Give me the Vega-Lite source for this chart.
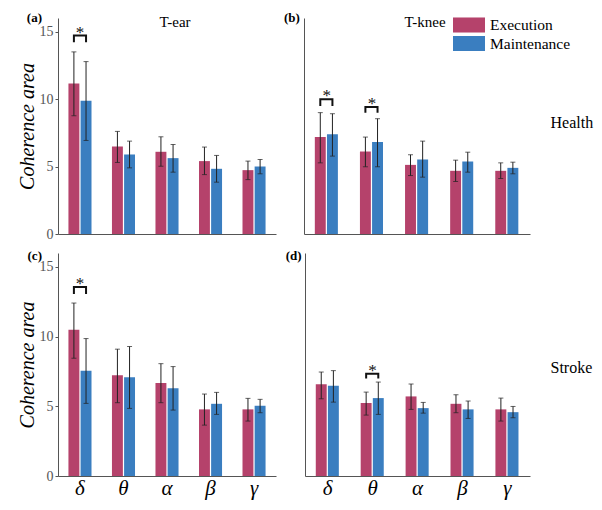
{
  "$schema": "https://vega.github.io/schema/vega-lite/v6.json",
  "padding": {"left": 17, "top": 12, "right": 4, "bottom": 4},
  "background": "white",
  "config": {
    "view": {"stroke": null},
    "font": "Liberation Serif",
    "axis": {"grid": false, "ticks": false, "domain": true, "domainColor": "#555", "domainWidth": 1, "domainOpacity": 1, "labelFont": "Liberation Serif", "titleFont": "Liberation Serif", "labelColor": "#555"},
    "title": {"font": "Liberation Serif", "fontWeight": "normal", "fontSize": 15, "color": "#000"}
  },
  "datasets": {
    "bars": [
      {"panel": "a", "band": "δ", "cond": "Execution", "mean": 11.14, "lo": 8.76, "hi": 13.49},
      {"panel": "a", "band": "δ", "cond": "Maintenance", "mean": 9.87, "lo": 6.93, "hi": 12.77},
      {"panel": "a", "band": "θ", "cond": "Execution", "mean": 6.49, "lo": 5.3, "hi": 7.6},
      {"panel": "a", "band": "θ", "cond": "Maintenance", "mean": 5.89, "lo": 4.9, "hi": 6.88},
      {"panel": "a", "band": "α", "cond": "Execution", "mean": 6.09, "lo": 5.02, "hi": 7.2},
      {"panel": "a", "band": "α", "cond": "Maintenance", "mean": 5.62, "lo": 4.58, "hi": 6.63},
      {"panel": "a", "band": "β", "cond": "Execution", "mean": 5.4, "lo": 4.4, "hi": 6.44},
      {"panel": "a", "band": "β", "cond": "Maintenance", "mean": 4.83, "lo": 3.84, "hi": 5.82},
      {"panel": "a", "band": "γ", "cond": "Execution", "mean": 4.73, "lo": 4.03, "hi": 5.4},
      {"panel": "a", "band": "γ", "cond": "Maintenance", "mean": 5.0, "lo": 4.46, "hi": 5.52},
      {"panel": "b", "band": "δ", "cond": "Execution", "mean": 7.18, "lo": 5.27, "hi": 8.99},
      {"panel": "b", "band": "δ", "cond": "Maintenance", "mean": 7.38, "lo": 5.77, "hi": 8.91},
      {"panel": "b", "band": "θ", "cond": "Execution", "mean": 6.11, "lo": 4.98, "hi": 7.18},
      {"panel": "b", "band": "θ", "cond": "Maintenance", "mean": 6.81, "lo": 4.98, "hi": 8.54},
      {"panel": "b", "band": "α", "cond": "Execution", "mean": 5.12, "lo": 4.33, "hi": 5.87},
      {"panel": "b", "band": "α", "cond": "Maintenance", "mean": 5.52, "lo": 4.21, "hi": 6.88},
      {"panel": "b", "band": "β", "cond": "Execution", "mean": 4.68, "lo": 3.89, "hi": 5.47},
      {"panel": "b", "band": "β", "cond": "Maintenance", "mean": 5.37, "lo": 4.58, "hi": 6.06},
      {"panel": "b", "band": "γ", "cond": "Execution", "mean": 4.68, "lo": 4.11, "hi": 5.27},
      {"panel": "b", "band": "γ", "cond": "Maintenance", "mean": 4.9, "lo": 4.46, "hi": 5.32},
      {"panel": "c", "band": "δ", "cond": "Execution", "mean": 10.49, "lo": 8.45, "hi": 12.41},
      {"panel": "c", "band": "δ", "cond": "Maintenance", "mean": 7.56, "lo": 5.21, "hi": 9.86},
      {"panel": "c", "band": "θ", "cond": "Execution", "mean": 7.22, "lo": 5.26, "hi": 9.1},
      {"panel": "c", "band": "θ", "cond": "Maintenance", "mean": 7.08, "lo": 4.85, "hi": 9.29},
      {"panel": "c", "band": "α", "cond": "Execution", "mean": 6.67, "lo": 5.26, "hi": 8.06},
      {"panel": "c", "band": "α", "cond": "Maintenance", "mean": 6.29, "lo": 4.73, "hi": 7.85},
      {"panel": "c", "band": "β", "cond": "Execution", "mean": 4.78, "lo": 3.65, "hi": 5.88},
      {"panel": "c", "band": "β", "cond": "Maintenance", "mean": 5.18, "lo": 4.42, "hi": 6.0},
      {"panel": "c", "band": "γ", "cond": "Execution", "mean": 4.78, "lo": 3.94, "hi": 5.57},
      {"panel": "c", "band": "γ", "cond": "Maintenance", "mean": 5.04, "lo": 4.54, "hi": 5.5},
      {"panel": "d", "band": "δ", "cond": "Execution", "mean": 6.58, "lo": 5.54, "hi": 7.46},
      {"panel": "d", "band": "δ", "cond": "Maintenance", "mean": 6.48, "lo": 5.3, "hi": 7.56},
      {"panel": "d", "band": "θ", "cond": "Execution", "mean": 5.23, "lo": 4.37, "hi": 6.02},
      {"panel": "d", "band": "θ", "cond": "Maintenance", "mean": 5.59, "lo": 4.42, "hi": 6.74},
      {"panel": "d", "band": "α", "cond": "Execution", "mean": 5.71, "lo": 4.78, "hi": 6.6},
      {"panel": "d", "band": "α", "cond": "Maintenance", "mean": 4.87, "lo": 4.51, "hi": 5.28},
      {"panel": "d", "band": "β", "cond": "Execution", "mean": 5.18, "lo": 4.54, "hi": 5.83},
      {"panel": "d", "band": "β", "cond": "Maintenance", "mean": 4.78, "lo": 4.13, "hi": 5.38},
      {"panel": "d", "band": "γ", "cond": "Execution", "mean": 4.78, "lo": 3.94, "hi": 5.59},
      {"panel": "d", "band": "γ", "cond": "Maintenance", "mean": 4.58, "lo": 4.18, "hi": 4.99}
    ],
    "brackets": [
      {"panel": "a", "id": "a1", "band": "δ", "cond": "Execution", "k": 1, "y": 14.2},
      {"panel": "a", "id": "a1", "band": "δ", "cond": "Execution", "k": 2, "y": 14.7},
      {"panel": "a", "id": "a1", "band": "δ", "cond": "Maintenance", "k": 3, "y": 14.7},
      {"panel": "a", "id": "a1", "band": "δ", "cond": "Maintenance", "k": 4, "y": 14.2},
      {"panel": "b", "id": "b1", "band": "δ", "cond": "Execution", "k": 1, "y": 9.48},
      {"panel": "b", "id": "b1", "band": "δ", "cond": "Execution", "k": 2, "y": 9.98},
      {"panel": "b", "id": "b1", "band": "δ", "cond": "Maintenance", "k": 3, "y": 9.98},
      {"panel": "b", "id": "b1", "band": "δ", "cond": "Maintenance", "k": 4, "y": 9.48},
      {"panel": "b", "id": "b2", "band": "θ", "cond": "Execution", "k": 1, "y": 8.99},
      {"panel": "b", "id": "b2", "band": "θ", "cond": "Execution", "k": 2, "y": 9.4},
      {"panel": "b", "id": "b2", "band": "θ", "cond": "Maintenance", "k": 3, "y": 9.4},
      {"panel": "b", "id": "b2", "band": "θ", "cond": "Maintenance", "k": 4, "y": 8.99},
      {"panel": "c", "id": "c1", "band": "δ", "cond": "Execution", "k": 1, "y": 13.06},
      {"panel": "c", "id": "c1", "band": "δ", "cond": "Execution", "k": 2, "y": 13.56},
      {"panel": "c", "id": "c1", "band": "δ", "cond": "Maintenance", "k": 3, "y": 13.56},
      {"panel": "c", "id": "c1", "band": "δ", "cond": "Maintenance", "k": 4, "y": 13.06},
      {"panel": "d", "id": "d1", "band": "θ", "cond": "Execution", "k": 1, "y": 7.0},
      {"panel": "d", "id": "d1", "band": "θ", "cond": "Execution", "k": 2, "y": 7.34},
      {"panel": "d", "id": "d1", "band": "θ", "cond": "Maintenance", "k": 3, "y": 7.34},
      {"panel": "d", "id": "d1", "band": "θ", "cond": "Maintenance", "k": 4, "y": 7.0}
    ],
    "stars": [
      {"panel": "a", "band": "δ", "y": 14.7, "text": "*"},
      {"panel": "b", "band": "δ", "y": 9.98, "text": "*"},
      {"panel": "b", "band": "θ", "y": 9.4, "text": "*"},
      {"panel": "c", "band": "δ", "y": 13.56, "text": "*"},
      {"panel": "d", "band": "θ", "y": 7.34, "text": "*"}
    ],
    "labels": [
      {"panel": "a", "band": "δ", "y": 16, "text": "(a)"},
      {"panel": "b", "band": "δ", "y": 16, "text": "(b)"},
      {"panel": "c", "band": "δ", "y": 15.8, "text": "(c)"},
      {"panel": "d", "band": "δ", "y": 15.8, "text": "(d)"}
    ]
  },
  "resolve": {"scale": {"x": "independent", "y": "independent", "color": "independent"}, "legend": {"color": "independent"}},
  "vconcat": [
    {
      "resolve": {"scale": {"x": "independent", "y": "independent", "color": "independent"}, "legend": {"color": "independent"}},
      "hconcat": [
        {
          "width": 218, "height": 216,
          "title": {"text": "T-ear", "offset": -18, "frame": "group", "dx": 8},
          "resolve": {"axis": {"x": "independent", "y": "independent"}},
          "layer": [
            {"data": {"name": "bars"}, "transform": [{"filter": "datum.panel === 'a'"}],
             "mark": {"type": "bar"},
             "encoding": {
               "x": {"field": "band", "type": "nominal", "sort": ["δ", "θ", "α", "β", "γ"], "scale": {"paddingInner": 0.47, "paddingOuter": 0.24}, "axis": {"labels": false, "title": null, "domain": true, "domainColor": "#555"}},
               "xOffset": {"field": "cond", "type": "nominal", "sort": ["Execution", "Maintenance"], "scale": {"paddingInner": 0.1}},
               "y": {"field": "mean", "type": "quantitative", "scale": {"domain": [0, 16], "nice": false}, "axis": {"values": [0, 5, 10, 15], "domain": true, "domainColor": "#555", "ticks": true, "tickSize": 3, "tickColor": "#555", "title": "Coherence area", "titleFontStyle": "italic", "titleFontWeight": "normal", "titleFontSize": 20, "titleColor": "#000", "labelFontSize": 14, "labelPadding": 2, "titlePadding": 2}},
               "color": {"field": "cond", "type": "nominal", "scale": {"domain": ["Execution", "Maintenance"], "range": ["#B5426B", "#3A7EC0"]}, "legend": null}
             }},
            {"data": {"name": "bars"}, "transform": [{"filter": "datum.panel === 'a'"}],
             "mark": {"type": "rule", "color": "#222", "strokeWidth": 1},
             "encoding": {
               "x": {"field": "band", "type": "nominal", "sort": ["δ", "θ", "α", "β", "γ"], "axis": null},
               "xOffset": {"field": "cond", "type": "nominal", "sort": ["Execution", "Maintenance"]},
               "y": {"field": "lo", "type": "quantitative", "axis": null},
               "y2": {"field": "hi"}
             }},
            {"data": {"name": "bars"}, "transform": [{"filter": "datum.panel === 'a'"}],
             "mark": {"type": "tick", "color": "#222", "size": 5, "thickness": 1},
             "encoding": {
               "x": {"field": "band", "type": "nominal", "sort": ["δ", "θ", "α", "β", "γ"], "axis": null},
               "xOffset": {"field": "cond", "type": "nominal", "sort": ["Execution", "Maintenance"]},
               "y": {"field": "lo", "type": "quantitative", "axis": null}
             }},
            {"data": {"name": "bars"}, "transform": [{"filter": "datum.panel === 'a'"}],
             "mark": {"type": "tick", "color": "#222", "size": 5, "thickness": 1},
             "encoding": {
               "x": {"field": "band", "type": "nominal", "sort": ["δ", "θ", "α", "β", "γ"], "axis": null},
               "xOffset": {"field": "cond", "type": "nominal", "sort": ["Execution", "Maintenance"]},
               "y": {"field": "hi", "type": "quantitative", "axis": null}
             }},
            {"data": {"name": "brackets"}, "transform": [{"filter": "datum.panel === 'a'"}],
             "mark": {"type": "line", "color": "#111", "strokeWidth": 2},
             "encoding": {
               "x": {"field": "band", "type": "nominal", "sort": ["δ", "θ", "α", "β", "γ"], "axis": null},
               "xOffset": {"field": "cond", "type": "nominal", "sort": ["Execution", "Maintenance"]},
               "y": {"field": "y", "type": "quantitative", "axis": null},
               "detail": {"field": "id"},
               "order": {"field": "k"}
             }},
            {"data": {"name": "stars"}, "transform": [{"filter": "datum.panel === 'a'"}],
             "mark": {"type": "text", "fontSize": 17, "baseline": "alphabetic", "dy": 2, "color": "#111"},
             "encoding": {
               "x": {"field": "band", "type": "nominal", "sort": ["δ", "θ", "α", "β", "γ"], "axis": null},
               "y": {"field": "y", "type": "quantitative", "axis": null},
               "text": {"field": "text"}
             }},
            {"data": {"name": "labels"}, "transform": [{"filter": "datum.panel === 'a'"}],
             "mark": {"type": "text", "fontSize": 13, "fontWeight": "bold", "align": "right", "baseline": "middle", "dx": -38, "color": "#000"},
             "encoding": {
               "x": {"field": "band", "type": "nominal", "sort": ["δ", "θ", "α", "β", "γ"], "axis": null},
               "y": {"field": "y", "type": "quantitative", "axis": null},
               "text": {"field": "text"}
             }}
          ]
        },
        {
          "width": 226, "height": 216,
          "title": {"text": "T-knee", "offset": -18, "frame": "group", "dx": 8},
          "resolve": {"axis": {"x": "independent", "y": "independent"}},
          "layer": [
            {"data": {"name": "bars"}, "transform": [{"filter": "datum.panel === 'b'"}],
             "mark": {"type": "bar"},
             "encoding": {
               "x": {"field": "band", "type": "nominal", "sort": ["δ", "θ", "α", "β", "γ"], "scale": {"paddingInner": 0.47, "paddingOuter": 0.24}, "axis": {"labels": false, "title": null, "domain": true, "domainColor": "#555"}},
               "xOffset": {"field": "cond", "type": "nominal", "sort": ["Execution", "Maintenance"], "scale": {"paddingInner": 0.1}},
               "y": {"field": "mean", "type": "quantitative", "scale": {"domain": [0, 16], "nice": false}, "axis": {"labels": false, "title": null, "domain": true, "domainColor": "#555"}},
               "color": {"field": "cond", "type": "nominal", "scale": {"domain": ["Execution", "Maintenance"], "range": ["#B5426B", "#3A7EC0"]},
                 "legend": {"orient": "none", "legendX": 157, "legendY": -1, "title": null, "symbolType": "M-2,-0.94H2V0.94H-2Z", "symbolSize": 256, "symbolStrokeWidth": 0, "labelFontSize": 15.5, "labelFont": "Liberation Serif", "labelColor": "#000", "labelOffset": 13, "rowPadding": 1.5, "padding": 0}}
             }},
            {"data": {"name": "bars"}, "transform": [{"filter": "datum.panel === 'b'"}],
             "mark": {"type": "rule", "color": "#222", "strokeWidth": 1},
             "encoding": {
               "x": {"field": "band", "type": "nominal", "sort": ["δ", "θ", "α", "β", "γ"], "axis": null},
               "xOffset": {"field": "cond", "type": "nominal", "sort": ["Execution", "Maintenance"]},
               "y": {"field": "lo", "type": "quantitative", "axis": {"orient": "right", "title": "Health", "domain": false, "labels": false, "titleAngle": 0, "titleAlign": "left", "titleBaseline": "middle", "titleY": 104, "titlePadding": 20, "titleFontSize": 16, "titleFontWeight": "normal", "titleColor": "#000"}},
               "y2": {"field": "hi"}
             }},
            {"data": {"name": "bars"}, "transform": [{"filter": "datum.panel === 'b'"}],
             "mark": {"type": "tick", "color": "#222", "size": 5, "thickness": 1},
             "encoding": {
               "x": {"field": "band", "type": "nominal", "sort": ["δ", "θ", "α", "β", "γ"], "axis": null},
               "xOffset": {"field": "cond", "type": "nominal", "sort": ["Execution", "Maintenance"]},
               "y": {"field": "lo", "type": "quantitative", "axis": null}
             }},
            {"data": {"name": "bars"}, "transform": [{"filter": "datum.panel === 'b'"}],
             "mark": {"type": "tick", "color": "#222", "size": 5, "thickness": 1},
             "encoding": {
               "x": {"field": "band", "type": "nominal", "sort": ["δ", "θ", "α", "β", "γ"], "axis": null},
               "xOffset": {"field": "cond", "type": "nominal", "sort": ["Execution", "Maintenance"]},
               "y": {"field": "hi", "type": "quantitative", "axis": null}
             }},
            {"data": {"name": "brackets"}, "transform": [{"filter": "datum.panel === 'b'"}],
             "mark": {"type": "line", "color": "#111", "strokeWidth": 2},
             "encoding": {
               "x": {"field": "band", "type": "nominal", "sort": ["δ", "θ", "α", "β", "γ"], "axis": null},
               "xOffset": {"field": "cond", "type": "nominal", "sort": ["Execution", "Maintenance"]},
               "y": {"field": "y", "type": "quantitative", "axis": null},
               "detail": {"field": "id"},
               "order": {"field": "k"}
             }},
            {"data": {"name": "stars"}, "transform": [{"filter": "datum.panel === 'b'"}],
             "mark": {"type": "text", "fontSize": 17, "baseline": "alphabetic", "dy": 2, "color": "#111"},
             "encoding": {
               "x": {"field": "band", "type": "nominal", "sort": ["δ", "θ", "α", "β", "γ"], "axis": null},
               "y": {"field": "y", "type": "quantitative", "axis": null},
               "text": {"field": "text"}
             }},
            {"data": {"name": "labels"}, "transform": [{"filter": "datum.panel === 'b'"}],
             "mark": {"type": "text", "fontSize": 13, "fontWeight": "bold", "align": "right", "baseline": "middle", "dx": -27, "color": "#000"},
             "encoding": {
               "x": {"field": "band", "type": "nominal", "sort": ["δ", "θ", "α", "β", "γ"], "axis": null},
               "y": {"field": "y", "type": "quantitative", "axis": null},
               "text": {"field": "text"}
             }}
          ]
        }
      ],
      "spacing": 7
    },
    {
      "resolve": {"scale": {"x": "independent", "y": "independent", "color": "independent"}, "legend": {"color": "independent"}},
      "hconcat": [
        {
          "width": 218, "height": 223,
          "resolve": {"axis": {"x": "independent", "y": "independent"}},
          "layer": [
            {"data": {"name": "bars"}, "transform": [{"filter": "datum.panel === 'c'"}],
             "mark": {"type": "bar"},
             "encoding": {
               "x": {"field": "band", "type": "nominal", "sort": ["δ", "θ", "α", "β", "γ"], "scale": {"paddingInner": 0.47, "paddingOuter": 0.24}, "axis": {"labelAngle": 0, "labelFontSize": 21, "labelFontStyle": "italic", "labelColor": "#000", "labelPadding": 1, "title": null, "domain": true, "domainColor": "#555"}},
               "xOffset": {"field": "cond", "type": "nominal", "sort": ["Execution", "Maintenance"], "scale": {"paddingInner": 0.1}},
               "y": {"field": "mean", "type": "quantitative", "scale": {"domain": [0, 16], "nice": false}, "axis": {"values": [0, 5, 10, 15], "domain": true, "domainColor": "#555", "ticks": true, "tickSize": 3, "tickColor": "#555", "title": "Coherence area", "titleFontStyle": "italic", "titleFontWeight": "normal", "titleFontSize": 20, "titleColor": "#000", "labelFontSize": 14, "labelPadding": 2, "titlePadding": 2}},
               "color": {"field": "cond", "type": "nominal", "scale": {"domain": ["Execution", "Maintenance"], "range": ["#B5426B", "#3A7EC0"]}, "legend": null}
             }},
            {"data": {"name": "bars"}, "transform": [{"filter": "datum.panel === 'c'"}],
             "mark": {"type": "rule", "color": "#222", "strokeWidth": 1},
             "encoding": {
               "x": {"field": "band", "type": "nominal", "sort": ["δ", "θ", "α", "β", "γ"], "axis": null},
               "xOffset": {"field": "cond", "type": "nominal", "sort": ["Execution", "Maintenance"]},
               "y": {"field": "lo", "type": "quantitative", "axis": null},
               "y2": {"field": "hi"}
             }},
            {"data": {"name": "bars"}, "transform": [{"filter": "datum.panel === 'c'"}],
             "mark": {"type": "tick", "color": "#222", "size": 5, "thickness": 1},
             "encoding": {
               "x": {"field": "band", "type": "nominal", "sort": ["δ", "θ", "α", "β", "γ"], "axis": null},
               "xOffset": {"field": "cond", "type": "nominal", "sort": ["Execution", "Maintenance"]},
               "y": {"field": "lo", "type": "quantitative", "axis": null}
             }},
            {"data": {"name": "bars"}, "transform": [{"filter": "datum.panel === 'c'"}],
             "mark": {"type": "tick", "color": "#222", "size": 5, "thickness": 1},
             "encoding": {
               "x": {"field": "band", "type": "nominal", "sort": ["δ", "θ", "α", "β", "γ"], "axis": null},
               "xOffset": {"field": "cond", "type": "nominal", "sort": ["Execution", "Maintenance"]},
               "y": {"field": "hi", "type": "quantitative", "axis": null}
             }},
            {"data": {"name": "brackets"}, "transform": [{"filter": "datum.panel === 'c'"}],
             "mark": {"type": "line", "color": "#111", "strokeWidth": 2},
             "encoding": {
               "x": {"field": "band", "type": "nominal", "sort": ["δ", "θ", "α", "β", "γ"], "axis": null},
               "xOffset": {"field": "cond", "type": "nominal", "sort": ["Execution", "Maintenance"]},
               "y": {"field": "y", "type": "quantitative", "axis": null},
               "detail": {"field": "id"},
               "order": {"field": "k"}
             }},
            {"data": {"name": "stars"}, "transform": [{"filter": "datum.panel === 'c'"}],
             "mark": {"type": "text", "fontSize": 17, "baseline": "alphabetic", "dy": 2, "color": "#111"},
             "encoding": {
               "x": {"field": "band", "type": "nominal", "sort": ["δ", "θ", "α", "β", "γ"], "axis": null},
               "y": {"field": "y", "type": "quantitative", "axis": null},
               "text": {"field": "text"}
             }},
            {"data": {"name": "labels"}, "transform": [{"filter": "datum.panel === 'c'"}],
             "mark": {"type": "text", "fontSize": 13, "fontWeight": "bold", "align": "right", "baseline": "middle", "dx": -38, "color": "#000"},
             "encoding": {
               "x": {"field": "band", "type": "nominal", "sort": ["δ", "θ", "α", "β", "γ"], "axis": null},
               "y": {"field": "y", "type": "quantitative", "axis": null},
               "text": {"field": "text"}
             }}
          ]
        },
        {
          "width": 225, "height": 223,
          "resolve": {"axis": {"x": "independent", "y": "independent"}},
          "layer": [
            {"data": {"name": "bars"}, "transform": [{"filter": "datum.panel === 'd'"}],
             "mark": {"type": "bar"},
             "encoding": {
               "x": {"field": "band", "type": "nominal", "sort": ["δ", "θ", "α", "β", "γ"], "scale": {"paddingInner": 0.47, "paddingOuter": 0.24}, "axis": {"labelAngle": 0, "labelFontSize": 21, "labelFontStyle": "italic", "labelColor": "#000", "labelPadding": 1, "title": null, "domain": true, "domainColor": "#555"}},
               "xOffset": {"field": "cond", "type": "nominal", "sort": ["Execution", "Maintenance"], "scale": {"paddingInner": 0.1}},
               "y": {"field": "mean", "type": "quantitative", "scale": {"domain": [0, 16], "nice": false}, "axis": {"labels": false, "title": null, "domain": true, "domainColor": "#555"}},
               "color": {"field": "cond", "type": "nominal", "scale": {"domain": ["Execution", "Maintenance"], "range": ["#B5426B", "#3A7EC0"]}, "legend": null}
             }},
            {"data": {"name": "bars"}, "transform": [{"filter": "datum.panel === 'd'"}],
             "mark": {"type": "rule", "color": "#222", "strokeWidth": 1},
             "encoding": {
               "x": {"field": "band", "type": "nominal", "sort": ["δ", "θ", "α", "β", "γ"], "axis": null},
               "xOffset": {"field": "cond", "type": "nominal", "sort": ["Execution", "Maintenance"]},
               "y": {"field": "lo", "type": "quantitative", "axis": {"orient": "right", "title": "Stroke", "domain": false, "labels": false, "titleAngle": 0, "titleAlign": "left", "titleBaseline": "middle", "titleY": 114, "titlePadding": 20, "titleFontSize": 16, "titleFontWeight": "normal", "titleColor": "#000"}},
               "y2": {"field": "hi"}
             }},
            {"data": {"name": "bars"}, "transform": [{"filter": "datum.panel === 'd'"}],
             "mark": {"type": "tick", "color": "#222", "size": 5, "thickness": 1},
             "encoding": {
               "x": {"field": "band", "type": "nominal", "sort": ["δ", "θ", "α", "β", "γ"], "axis": null},
               "xOffset": {"field": "cond", "type": "nominal", "sort": ["Execution", "Maintenance"]},
               "y": {"field": "lo", "type": "quantitative", "axis": null}
             }},
            {"data": {"name": "bars"}, "transform": [{"filter": "datum.panel === 'd'"}],
             "mark": {"type": "tick", "color": "#222", "size": 5, "thickness": 1},
             "encoding": {
               "x": {"field": "band", "type": "nominal", "sort": ["δ", "θ", "α", "β", "γ"], "axis": null},
               "xOffset": {"field": "cond", "type": "nominal", "sort": ["Execution", "Maintenance"]},
               "y": {"field": "hi", "type": "quantitative", "axis": null}
             }},
            {"data": {"name": "brackets"}, "transform": [{"filter": "datum.panel === 'd'"}],
             "mark": {"type": "line", "color": "#111", "strokeWidth": 2},
             "encoding": {
               "x": {"field": "band", "type": "nominal", "sort": ["δ", "θ", "α", "β", "γ"], "axis": null},
               "xOffset": {"field": "cond", "type": "nominal", "sort": ["Execution", "Maintenance"]},
               "y": {"field": "y", "type": "quantitative", "axis": null},
               "detail": {"field": "id"},
               "order": {"field": "k"}
             }},
            {"data": {"name": "stars"}, "transform": [{"filter": "datum.panel === 'd'"}],
             "mark": {"type": "text", "fontSize": 17, "baseline": "alphabetic", "dy": 2, "color": "#111"},
             "encoding": {
               "x": {"field": "band", "type": "nominal", "sort": ["δ", "θ", "α", "β", "γ"], "axis": null},
               "y": {"field": "y", "type": "quantitative", "axis": null},
               "text": {"field": "text"}
             }},
            {"data": {"name": "labels"}, "transform": [{"filter": "datum.panel === 'd'"}],
             "mark": {"type": "text", "fontSize": 13, "fontWeight": "bold", "align": "right", "baseline": "middle", "dx": -26, "color": "#000"},
             "encoding": {
               "x": {"field": "band", "type": "nominal", "sort": ["δ", "θ", "α", "β", "γ"], "axis": null},
               "y": {"field": "y", "type": "quantitative", "axis": null},
               "text": {"field": "text"}
             }}
          ]
        }
      ],
      "spacing": 9
    }
  ],
  "spacing": 8
}
